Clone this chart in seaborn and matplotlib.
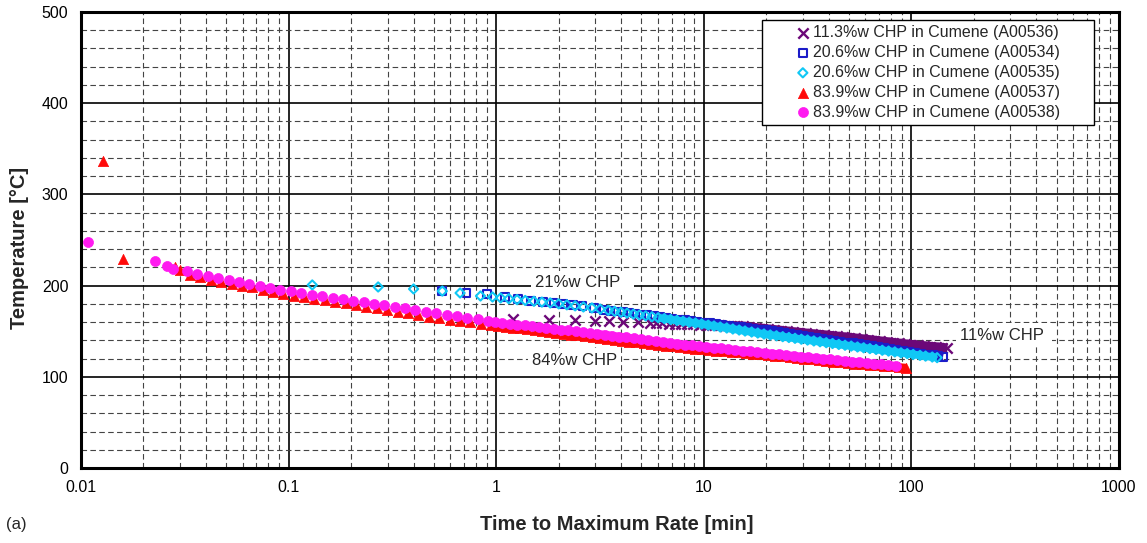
import matplotlib
matplotlib.use("Agg")
import matplotlib.pyplot as plt
import numpy as np
import pandas as pd
import seaborn as sns
from matplotlib.ticker import LogLocator, MultipleLocator, FixedLocator, FixedFormatter, NullFormatter
from matplotlib.patches import Rectangle

# ---------------- data ----------------
labels = ["11.3%w CHP in Cumene (A00536)",
          "20.6%w CHP in Cumene (A00534)",
          "20.6%w CHP in Cumene (A00535)",
          "83.9%w CHP in Cumene (A00537)",
          "83.9%w CHP in Cumene (A00538)"]

t_a00536 = [1.21, 1.8, 2.4, 3.0, 3.5, 4.1, 4.8, 5.5, 5.9, 6.3, 6.8, 7.3, 7.8, 8.3, 8.9, 9.6,
            10.3, 11.0, 11.8, 12.6, 13.5, 14.5, 15.5, 16.6, 17.8, 19.1, 20.4, 21.9, 23.5, 25.1,
            26.9, 28.9, 30.9, 33.1, 35.5, 38.0, 40.8, 43.7, 46.8, 50.1, 53.7, 57.6, 61.7, 66.1,
            70.8, 75.9, 81.3, 87.1, 93.3, 100, 107, 115, 123, 132, 141, 149]
T_a00536 = [163, 162, 162, 161, 161, 160, 160, 159, 158.8, 158.6, 158.4, 158.2, 158, 157.8, 157.6, 157.2,
            156.9, 156.6, 156.3, 156, 155.8, 155.5, 155.2, 154.4, 153.6, 152.9, 152.1, 151.4, 150.6, 149.9,
            149.1, 148.4, 147.7, 147, 146.3, 145.7, 145, 144.3, 143.6, 143, 142.2, 141.4, 140.6, 139.8,
            139, 138.2, 137.4, 136.6, 135.8, 135, 134.4, 133.7, 133.1, 132.5, 131.9, 131.3]

t_a00534 = [0.55, 0.72, 0.9, 1.1, 1.27, 1.47, 1.68, 1.89, 2.1, 2.35, 2.6, 2.95, 3.3,
            3.55, 3.8, 4.07, 4.36, 4.67, 5.0, 5.36, 5.74, 6.15, 6.59, 7.06, 7.57, 8.11, 8.69, 9.31,
            9.98, 10.7, 11.5, 12.3, 13.2, 14.1, 15.1, 16.2, 17.3, 18.6, 19.9, 21.3, 22.8, 24.5, 26.2,
            28.1, 30.1, 32.3, 34.6, 37.0, 39.7, 42.5, 45.6, 48.8, 52.3, 56.1, 60.1, 64.4, 69.0, 73.9,
            79.2, 84.9, 90.9, 97.4, 104, 112, 120, 128, 135, 142]
T_a00534 = [194, 192, 190.5, 187.5, 185.5, 183, 182, 181, 180, 178.7, 177.6, 175.5, 173.2,
            172.4, 171.7, 171, 170.3, 169.5, 168.5, 167.6, 166.6, 165.7, 164.7, 163.8, 163, 162.1, 161.2, 160.3,
            159.5, 158.7, 157.8, 157, 156.1, 155.3, 154.5, 153.6, 152.8, 152, 151.1, 150.1, 149.1, 148, 147,
            146, 145, 143.9, 142.9, 141.9, 140.9, 139.9, 138.8, 137.8, 136.8, 135.8, 134.8, 133.8, 132.7, 131.7,
            130.7, 129.7, 128.7, 127.7, 126.7, 125.6, 124.6, 123.6, 122.8, 122]

t_a00535 = [0.13, 0.27, 0.40, 0.55, 0.67, 0.84, 0.96,
            1.05, 1.15, 1.26, 1.38, 1.52, 1.66, 1.82, 2.0, 2.19, 2.4, 2.63, 2.89, 3.17, 3.47,
            3.72, 3.99, 4.27, 4.58, 4.90, 5.25, 5.63, 6.03, 6.46, 6.92, 7.42, 7.95, 8.51, 9.12, 9.77,
            10.5, 11.2, 12.0, 12.9, 13.8, 14.8, 15.8, 17.0, 18.2, 19.5, 20.9, 22.4, 24.0, 25.7, 27.5,
            29.5, 31.6, 33.9, 36.3, 38.9, 41.7, 44.7, 47.9, 51.3, 55.0, 58.9, 63.1, 67.6, 72.4, 77.6,
            83.2, 89.1, 95.5, 102, 110, 117, 126, 133]
T_a00535 = [200.7, 198.5, 196.3, 194, 191.9, 188.6, 187.5,
            186.5, 185.6, 184.6, 183.7, 182.8, 181.9, 181, 180, 178.9, 177.8, 176.6, 175.5, 174.2, 172.9,
            171.8, 170.8, 169.8, 168.7, 167.7, 166.8, 165.8, 164.8, 163.8, 162.8, 161.8, 160.9, 159.9, 158.9, 157.9,
            156.7, 155.7, 154.6, 153.5, 152.4, 151.3, 150.2, 149.1, 148, 146.9, 145.9, 145, 144, 143.1, 142.2,
            141.2, 140.3, 139.3, 138.4, 137.4, 136.5, 135.5, 134.6, 133.7, 132.7, 131.8, 130.9, 130, 129.1, 128.2,
            127.3, 126.3, 125.4, 124.5, 123.5, 122.7, 121.7, 121]

t_a00537 = [0.0128, 0.0159, 0.0285, 0.0300,
            0.0335, 0.0376, 0.0422, 0.0473, 0.0531, 0.0596, 0.0668, 0.075, 0.0841, 0.0944,
            0.106, 0.119, 0.133, 0.149, 0.168, 0.188, 0.211, 0.237, 0.266, 0.298,
            0.335, 0.376, 0.422, 0.473, 0.531, 0.596, 0.668, 0.75, 0.841, 0.944,
            1.02, 1.11, 1.20, 1.30, 1.41, 1.53, 1.66, 1.80, 1.95, 2.11, 2.29, 2.48, 2.69, 2.92,
            3.16, 3.43, 3.72, 4.03, 4.37, 4.74, 5.14, 5.57, 6.04, 6.55, 7.10, 7.70, 8.35, 9.05, 9.81,
            10.6, 11.5, 12.5, 13.6, 14.7, 15.9, 17.3, 18.7, 20.3, 22.0, 23.9, 25.9, 28.0,
            30.4, 33.0, 35.7, 38.7, 42.0, 45.5, 49.4, 53.5, 58.0, 62.9, 68.2, 73.9, 80.1, 86.9, 94.2]
T_a00537 = [337, 229, 220, 217,
            212, 209, 206, 204.3, 202, 200, 198, 195.6, 193.4, 191,
            189, 187, 185.6, 184, 182, 180.5, 178.6, 177, 175, 173,
            171, 169.5, 167.7, 166, 164.2, 162.7, 161.2, 159.8, 158.2, 156.7,
            155.8, 154.8, 153.9, 153, 152, 151.1, 150.2, 149.2, 148.3, 147.3, 146.3, 145.4, 144.4, 143.3,
            142.4, 141.4, 140.5, 139.5, 138.6, 137.7, 136.7, 135.9, 135.1, 134.3, 133.5, 132.7, 131.8, 131, 130.2,
            129.5, 128.8, 128.1, 127.3, 126.7, 126, 125.3, 124.6, 123.8, 123.1, 122.3, 121.4, 120.7,
            119.9, 119.1, 118.3, 117.5, 116.7, 115.9, 115.1, 114.5, 113.9, 113.2, 112.6, 111.9, 111.3, 110.7, 110]

t_a00538 = [0.0108, 0.0227, 0.0259, 0.0278, 0.0324,
            0.0364, 0.0408, 0.0458, 0.0514, 0.0577, 0.0647, 0.0726, 0.0815, 0.0914,
            0.103, 0.115, 0.129, 0.145, 0.163, 0.182, 0.205, 0.23, 0.258, 0.289,
            0.325, 0.364, 0.408, 0.458, 0.514, 0.577, 0.647, 0.726, 0.815, 0.914,
            0.99, 1.07, 1.16, 1.26, 1.37, 1.48, 1.61, 1.74, 1.89, 2.05, 2.22, 2.41, 2.61, 2.83,
            3.07, 3.33, 3.61, 3.91, 4.24, 4.60, 4.98, 5.40, 5.86, 6.35, 6.88, 7.46, 8.09, 8.77, 9.51,
            10.3, 11.2, 12.1, 13.1, 14.2, 15.4, 16.7, 18.1, 19.7, 21.3, 23.1, 25.0, 27.1, 29.4,
            31.9, 34.6, 37.5, 40.6, 44.0, 47.7, 51.7, 56.1, 60.8, 65.9, 71.4, 77.4, 84.0]
T_a00538 = [248, 227, 221.5, 218, 216,
            213.2, 210.6, 208.6, 206.4, 204, 201.6, 199.4, 197.4, 195.5,
            193.6, 191.9, 190.2, 188.5, 186.8, 185.3, 183.6, 181.9, 180.2, 178.5,
            176.7, 175, 173.2, 171.4, 169.6, 167.9, 166.2, 164.5, 162.9, 161.3,
            160.1, 159.2, 158.3, 157.3, 156.4, 155.5, 154.5, 153.6, 152.7, 151.7, 150.8, 149.9, 149, 148.1,
            147.2, 146.2, 145.2, 144.1, 143.1, 142, 141, 140.1, 139.1, 138.2, 137.2, 136.3, 135.4, 134.5, 133.6,
            132.7, 131.9, 131.1, 130.3, 129.4, 128.6, 127.8, 127, 126.2, 125.4, 124.6, 123.8, 123, 122.2,
            121.4, 120.6, 119.8, 119, 118.2, 117.4, 116.7, 115.9, 115.2, 114.4, 113.6, 112.9, 112.1]

x_ticks = [0.01, 0.1, 1, 10, 100, 1000]
x_tick_labels = ["0.01", "0.1", "1", "10", "100", "1000"]
y_ticks = [0, 100, 200, 300, 400, 500]

annotations = [("21%w CHP  ", 1.54, 202.9), ("84%w CHP", 1.49, 118.4), ("11%w CHP ", 171.0, 145.8)]

# ---------------- style ----------------
sns.set_style("white")
plt.rcParams['font.family'] = ['Liberation Sans', 'DejaVu Sans']

W, H = 1147, 543
fig = plt.figure(figsize=(W / 100, H / 100), dpi=100)
ax = fig.add_axes([81 / W, (H - 468) / H, 1038 / W, 456 / H])

colors = ["#6c0878", "#1c1cc8", "#10c8f5", "#ff0a0a", "#ff1af0"]
styles = [
    dict(marker="x", s=55, color=colors[0], linewidth=1.7),
    dict(marker="s", s=30, color=colors[1], facecolor="none", edgecolor=colors[1], linewidth=1.5),
    dict(marker="D", s=22, color=colors[2], facecolor="none", edgecolor=colors[2], linewidth=1.5),
    dict(marker="^", s=55, color=colors[3], edgecolor=colors[3], linewidth=0.5),
    dict(marker="o", s=52, color=colors[4], edgecolor=colors[4], linewidth=0.5),
]
# where the measured points merge into a continuous band, and its thickness (pt)
band_start = [9.0, 6.0, 6.0, 3.0, 3.0]
band_width = [7.0, 5.6, 5.6, 5.6, 5.6]

data = [(t_a00536, T_a00536), (t_a00534, T_a00534), (t_a00535, T_a00535),
        (t_a00537, T_a00537), (t_a00538, T_a00538)]

for i, (lab, (tt, TT), st) in enumerate(zip(labels, data, styles)):
    df = pd.DataFrame({"t": tt, "T": TT})
    z = 2 + 0.1 * i
    dense = df[df["t"] >= band_start[i]]
    sns.lineplot(data=dense, x="t", y="T", ax=ax, sort=False, color=colors[i],
                 linewidth=band_width[i], legend=False, zorder=z - 0.05,
                 solid_capstyle="butt")
    sns.scatterplot(data=df, x="t", y="T", ax=ax, label=lab, zorder=z, **st)

ax.set_xscale("log")
ax.set_xlim(0.01, 1000)
ax.set_ylim(0, 500)

ax.xaxis.set_major_locator(FixedLocator(x_ticks))
ax.xaxis.set_major_formatter(FixedFormatter(x_tick_labels))
ax.xaxis.set_minor_locator(LogLocator(base=10, subs=np.arange(2, 10)))
ax.xaxis.set_minor_formatter(NullFormatter())
ax.yaxis.set_major_locator(FixedLocator(y_ticks))
ax.yaxis.set_minor_locator(MultipleLocator(20))

ax.set_axisbelow(True)
ax.grid(which="major", color="black", linewidth=1.2, linestyle="-")
ax.grid(which="minor", color="#444444", linewidth=0.8, linestyle=(0, (5, 3)))

for sp in ax.spines.values():
    sp.set_visible(True)
    sp.set_color("black")
    sp.set_linewidth(2.2)

ax.tick_params(axis="both", which="major", direction="out", length=5, width=1,
               labelsize=11.5, colors="black", pad=4)
ax.tick_params(axis="both", which="minor", direction="out", length=4, width=0.8, colors="black")

ax.set_xlabel("Time to Maximum Rate [min]", fontsize=14.5, fontweight="bold", va="center")
ax.xaxis.set_label_coords((617 - 81) / 1038, (468 - 524) / 456)
ax.set_ylabel("Temperature [\u00b0C]", fontsize=14.5, fontweight="bold", va="center", ha="center")
ax.yaxis.set_label_coords((20 - 81) / 1038, (468 - 248) / 456)

fig.text(6 / W, 1 - 524 / H, "(a)", fontsize=12, va="center", ha="left")

for txt, tx, ty in annotations:
    ax.text(tx, ty, txt, fontsize=12, ha="left", va="center", zorder=3,
            bbox=dict(boxstyle="square,pad=0.25", fc="white", ec="none"))

# legend box
ax.add_patch(Rectangle(((762 - 81) / 1038, (468 - 125) / 456), 332 / 1038, 105 / 456,
                       transform=ax.transAxes, facecolor="white", edgecolor="black",
                       linewidth=1.0, zorder=4))
handles, labs = ax.get_legend_handles_labels()
leg = ax.legend(handles, labs, loc="center", bbox_to_anchor=((928 - 81) / 1038, (468 - 72.5) / 456),
                frameon=False, fontsize=11.5, handletextpad=0.2, handlelength=0.9,
                labelspacing=0.3, borderpad=0.2, scatterpoints=1)
leg.set_zorder(5)

fig.savefig("out.png", dpi=100)
